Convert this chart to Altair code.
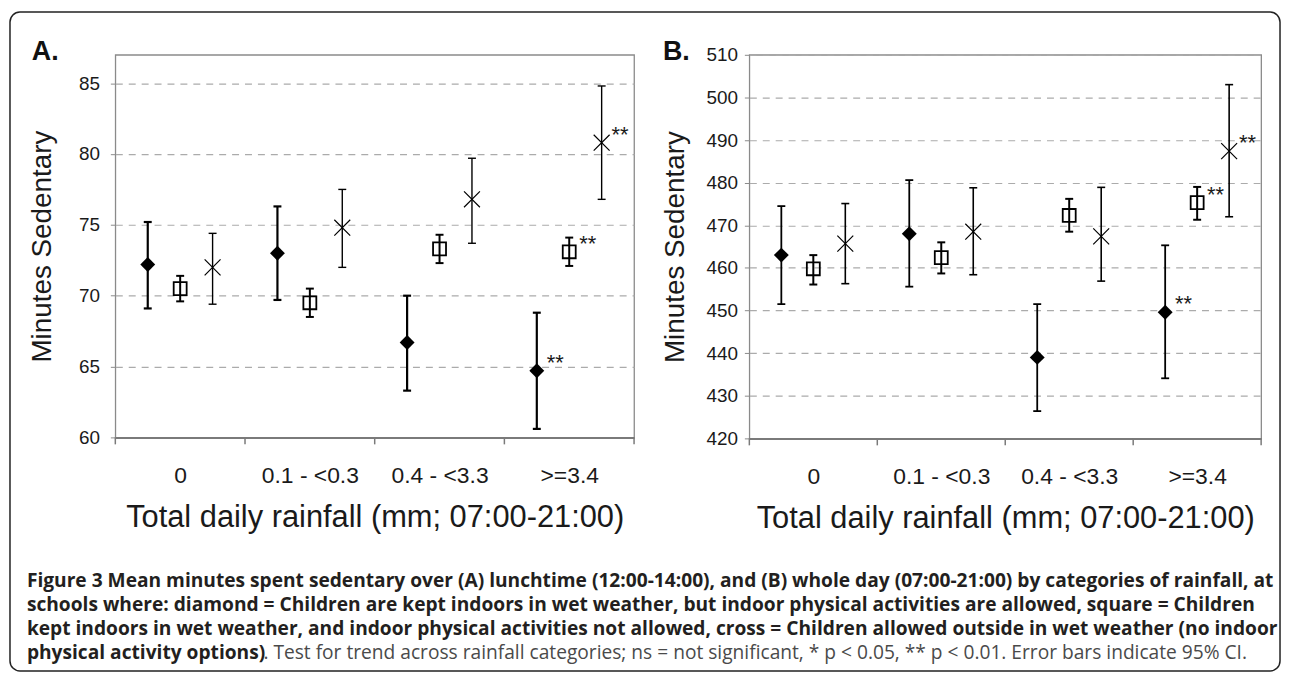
import json
import pandas as pd
import altair as alt

# ---------------- data ----------------
categories = ["0", "0.1 - <0.3", "0.4 - <3.3", ">=3.4"]
series_names = ["diamond", "square", "cross"]

# Panel A: lunchtime (12:00-14:00)
a_diamond_mean = [72.2, 73.0, 66.7, 64.7]
a_diamond_lo = [69.1, 69.7, 63.3, 60.6]
a_diamond_hi = [75.2, 76.3, 70.0, 68.8]
a_square_mean = [70.5, 69.5, 73.3, 73.1]
a_square_lo = [69.6, 68.5, 72.3, 72.1]
a_square_hi = [71.4, 70.5, 74.3, 74.1]
a_cross_mean = [72.0, 74.8, 76.8, 80.8]
a_cross_lo = [69.4, 72.0, 73.7, 76.8]
a_cross_hi = [74.4, 77.5, 79.7, 84.8]
a_diamond_sig = ["", "", "", "**"]
a_square_sig = ["", "", "", "**"]
a_cross_sig = ["", "", "", "**"]

# Panel B: whole day (07:00-21:00)
b_diamond_mean = [463.0, 468.0, 439.0, 449.6]
b_diamond_lo = [451.5, 455.6, 426.4, 434.1]
b_diamond_hi = [474.5, 480.6, 451.5, 465.3]
b_square_mean = [459.8, 462.4, 472.3, 475.3]
b_square_lo = [456.1, 458.7, 468.5, 471.3]
b_square_hi = [463.0, 466.0, 476.2, 479.0]
b_cross_mean = [465.7, 468.5, 467.4, 487.4]
b_cross_lo = [456.3, 458.4, 456.9, 472.0]
b_cross_hi = [475.1, 478.8, 478.9, 503.0]
b_diamond_sig = ["", "", "", "**"]
b_square_sig = ["", "", "", "**"]
b_cross_sig = ["", "", "", "**"]

a_ticks = [60, 65, 70, 75, 80, 85]
b_ticks = [420, 430, 440, 450, 460, 470, 480, 490, 500, 510]

y_title = "Minutes Sedentary"
x_title = "Total daily rainfall (mm; 07:00-21:00)"

caption_lines = [
    "Figure 3 Mean minutes spent sedentary over (A) lunchtime (12:00-14:00), and (B) whole day (07:00-21:00) by categories of rainfall, at",
    "schools where: diamond = Children are kept indoors in wet weather, but indoor physical activities are allowed, square = Children",
    "kept indoors in wet weather, and indoor physical activities not allowed, cross = Children allowed outside in wet weather (no indoor",
]
caption_last_bold = "physical activity options)"
caption_last_normal = ". Test for trend across rainfall categories; ns = not significant, * p < 0.05, ** p < 0.01. Error bars indicate 95% CI."

# ---------------- styling ----------------
FONT = "Liberation Sans"
CAP_FONT = "Open Sans"
CAP_SIZE = 19.3
TXT = "#1a1a1a"
GRAY = "#8a8a8a"
offsets = {"diamond": -0.25, "square": 0.0, "cross": 0.25}


def panel_df(means, los, his, sigs):
    rows = []
    for s in series_names:
        for i, c in enumerate(categories):
            rows.append(dict(series=s, cat=c, x=i + 0.5 + offsets[s],
                             mean=means[s][i], lo=los[s][i], hi=his[s][i], sig=sigs[s][i]))
    return pd.DataFrame(rows)


df_a = panel_df(
    {"diamond": a_diamond_mean, "square": a_square_mean, "cross": a_cross_mean},
    {"diamond": a_diamond_lo, "square": a_square_lo, "cross": a_cross_lo},
    {"diamond": a_diamond_hi, "square": a_square_hi, "cross": a_cross_hi},
    {"diamond": a_diamond_sig, "square": a_square_sig, "cross": a_cross_sig},
)
df_b = panel_df(
    {"diamond": b_diamond_mean, "square": b_square_mean, "cross": b_cross_mean},
    {"diamond": b_diamond_lo, "square": b_square_lo, "cross": b_cross_lo},
    {"diamond": b_diamond_hi, "square": b_square_hi, "cross": b_cross_hi},
    {"diamond": b_diamond_sig, "square": b_square_sig, "cross": b_cross_sig},
)

one = pd.DataFrame({"k": [0]})
bounds_df = pd.DataFrame({"b": list(range(len(categories) + 1))})


def make_panel(df, ydom, yvals, width, height, letter, letter_x, ytitle_x, ylab_pad, bar_w, extra=()):
    xscale = alt.Scale(domain=[0, len(categories)], nice=False, zero=False)
    yscale = alt.Scale(domain=ydom, nice=False, zero=False)
    label_expr = "%s[floor(datum.value)]" % json.dumps(categories)
    xaxis = alt.Axis(
        values=[i + 0.5 for i in range(len(categories))], labelExpr=label_expr,
        ticks=False, grid=False, domain=True, domainColor="#7a7a7a", domainWidth=2,
        labelFont=FONT, labelFontSize=23, labelColor=TXT, labelBaseline="alphabetic",
        labelPadding=45, labelFlush=False, labelOverlap=False,
        title=x_title, titleFont=FONT, titleFontSize=31, titleFontWeight="normal",
        titleColor=TXT, titleBaseline="alphabetic", titleY=90, titleX=width / 2,
        titleAlign="center",
    )
    yaxis = alt.Axis(
        values=yvals, grid=True, gridDash=[7, 6], gridColor="#ababab", gridWidth=1.2,
        domain=False, ticks=True, tickSize=5, tickColor=GRAY,
        labelFont=FONT, labelFontSize=19, labelColor=TXT, labelPadding=ylab_pad,
        title=y_title, titleFont=FONT, titleFontSize=28, titleFontWeight="normal",
        titleColor=TXT, titleAngle=270, titleAlign="center", titleBaseline="middle",
        titleX=ytitle_x, titleY=height / 2,
    )

    def X(f="x"):
        return alt.X(f + ":Q", scale=xscale, axis=xaxis)

    def Y(f):
        return alt.Y(f + ":Q", scale=yscale, axis=yaxis)

    base = alt.Chart(df)
    layers = [
        alt.Chart(bounds_df).mark_rule(color="#7a7a7a", strokeWidth=1.5).encode(
            x=X("b"), y=alt.value(height), y2=alt.value(height + 7))
    ]
    for s in series_names:
        sub = base.transform_filter(alt.datum.series == s)
        w = bar_w[s]
        layers.append(sub.mark_rule(color="black", strokeWidth=w).encode(x=X(), y=Y("lo"), y2="hi:Q"))
        layers.append(sub.mark_tick(color="black", orient="horizontal", size=8, thickness=w, opacity=1)
                      .encode(x=X(), y=Y("lo")))
        layers.append(sub.mark_tick(color="black", orient="horizontal", size=8, thickness=w, opacity=1)
                      .encode(x=X(), y=Y("hi")))
    layers.append(base.transform_filter(alt.datum.series == "diamond")
                  .mark_point(shape="diamond", filled=True, size=225, color="black", opacity=1)
                  .encode(x=X(), y=Y("mean")))
    layers.append(base.transform_filter(alt.datum.series == "square")
                  .mark_point(shape="square", filled=False, size=170, strokeWidth=1.8, color="black", opacity=1)
                  .encode(x=X(), y=Y("mean")))
    layers.append(base.transform_filter(alt.datum.series == "cross")
                  .mark_point(shape="M-1,-1L1,1M-1,1L1,-1", filled=False, size=256, strokeWidth=1.2,
                              color="black", opacity=1)
                  .encode(x=X(), y=Y("mean")))
    layers.append(base.transform_filter(alt.datum.sig != "")
                  .mark_text(align="left", baseline="middle", dx=10, dy=-8, fontSize=22, font=FONT, color=TXT)
                  .encode(x=X(), y=Y("mean"), text="sig:N"))
    layers.append(alt.Chart(one).mark_text(text=letter, font=FONT, fontSize=27, fontWeight="bold",
                                           align="left", baseline="alphabetic", color="#111111")
                  .encode(x=alt.value(letter_x), y=alt.value(5)))
    layers.extend(extra)
    return alt.layer(*layers).properties(width=width, height=height)


# frame + caption (positions relative to panel A plot origin)
cap_x = -89
extra_a = [
    alt.Chart(one).mark_rect(fill="white", fillOpacity=0, stroke="#222222", strokeWidth=1.5, cornerRadius=10)
    .encode(x=alt.value(-106), x2=alt.value(1172), y=alt.value(-43), y2=alt.value(620)),
]
for i, line in enumerate(caption_lines):
    extra_a.append(alt.Chart(one).mark_text(text=line, font=CAP_FONT, fontSize=CAP_SIZE, fontWeight="bold",
                                            align="left", baseline="alphabetic", color="#231f20")
                   .encode(x=alt.value(cap_x), y=alt.value(536 + 24 * i)))
extra_a.append(alt.Chart(one).mark_text(text=caption_last_bold, font=CAP_FONT, fontSize=CAP_SIZE,
                                        fontWeight="bold", align="left", baseline="alphabetic", color="#231f20")
               .encode(x=alt.value(cap_x), y=alt.value(608)))
extra_a.append(alt.Chart(one).mark_text(text=caption_last_normal, font=CAP_FONT, fontSize=CAP_SIZE,
                                        fontWeight="normal", align="left", baseline="alphabetic", color="#4a4a4a")
               .encode(x=alt.value(cap_x + 238), y=alt.value(608)))

panel_a = make_panel(df_a, [60, 87], a_ticks, 522, 385, "A.", -84, -73, 11,
                     {"diamond": 2.2, "square": 2.0, "cross": 1.4}, extra_a)
panel_b = make_panel(df_b, [420, 510], b_ticks, 515, 386, "B.", -87, -74, 7,
                     {"diamond": 1.8, "square": 2.0, "cross": 1.6})

chart = alt.hconcat(panel_a, panel_b, spacing=116, bounds="flush").properties(
    padding=0, background="white"
).configure_view(stroke=GRAY, strokeWidth=1.3)

chart.save("out.html", embed_options={"renderer": "svg", "actions": False})
